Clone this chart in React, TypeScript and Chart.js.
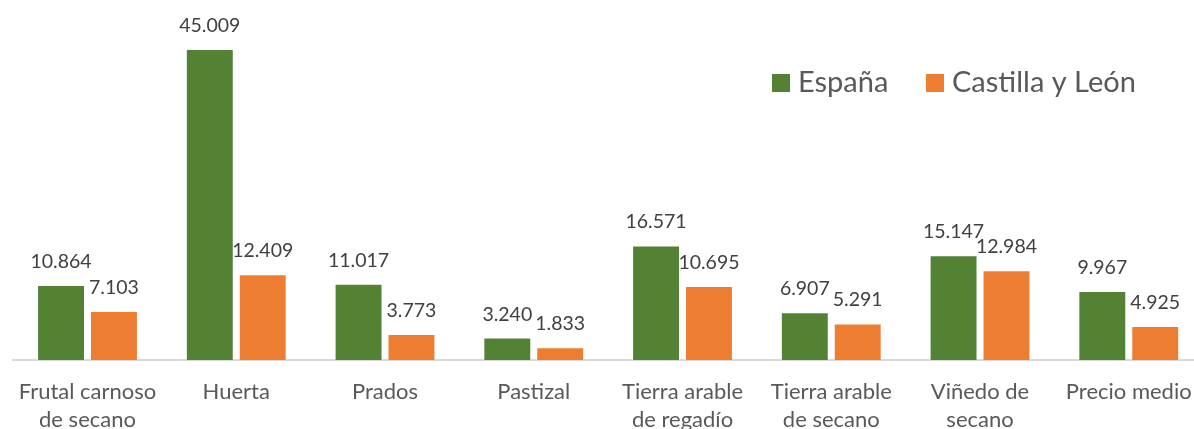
import React, { useEffect, useRef } from "react";
import { Chart, registerables } from "chart.js";

Chart.register(...registerables);

const categories: string[][] = [
  ["Frutal carnoso", "de secano"],
  ["Huerta"],
  ["Prados"],
  ["Pastizal"],
  ["Tierra arable", "de regadío"],
  ["Tierra arable", "de secano"],
  ["Viñedo de", "secano"],
  ["Precio medio"],
];
const seriesNames = ["España", "Castilla y León"];
const espana = [10864, 45009, 11017, 3240, 16571, 6907, 15147, 9967];
const castilla = [7103, 12409, 3773, 1833, 10695, 5291, 12984, 4925];
const colors = ["#548235", "#ED7D31"];

const fmt = (v: number) => {
  const s = Math.round(v).toString();
  return s.replace(/\B(?=(\d{3})+(?!\d))/g, ".");
};

const FONT = "Lato, 'Open Sans', sans-serif";

const labelPlugin = {
  id: "valueLabels",
  afterDatasetsDraw(chart: any) {
    const ctx = chart.ctx;
    ctx.save();
    ctx.font = `19.5px ${FONT}`;
    ctx.fillStyle = "#404040";
    ctx.textAlign = "center";
    ctx.textBaseline = "alphabetic";
    chart.data.datasets.forEach((ds: any, di: number) => {
      const meta = chart.getDatasetMeta(di);
      meta.data.forEach((el: any, i: number) => {
        ctx.fillText(fmt(ds.data[i]), el.x, el.y - 17);
      });
    });
    ctx.restore();
  },
};

const legendPlugin = {
  id: "customLegend",
  afterDraw(chart: any) {
    const ctx = chart.ctx;
    ctx.save();
    ctx.font = `29px ${FONT}`;
    ctx.textBaseline = "alphabetic";
    const xs = [772, 926];
    chart.data.datasets.forEach((ds: any, di: number) => {
      ctx.fillStyle = ds.backgroundColor;
      ctx.fillRect(xs[di], 74, 18, 18);
      ctx.fillStyle = "#595959";
      ctx.fillText(ds.label, xs[di] + 26, 92);
    });
    ctx.restore();
  },
};

export default function App() {
  const ref = useRef<HTMLCanvasElement | null>(null);
  useEffect(() => {
    document.body.style.margin = "0";
    const canvas = ref.current!;
    const chart = new Chart(canvas, {
      type: "bar",
      data: {
        labels: categories,
        datasets: [
          {
            label: seriesNames[0],
            data: espana,
            backgroundColor: colors[0],
            borderColor: "rgba(255,255,255,0.5)",
            borderWidth: 1,
          },
          {
            label: seriesNames[1],
            data: castilla,
            backgroundColor: colors[1],
            borderColor: "rgba(255,255,255,0.5)",
            borderWidth: 1,
          },
        ],
      },
      options: {
        responsive: false,
        animation: false,
        devicePixelRatio: 1,
        layout: { padding: { left: 12, right: 6, top: 14.5, bottom: 5 } },
        datasets: {
          bar: { barPercentage: 0.9057, categoryPercentage: 0.7114 },
        },
        plugins: {
          legend: { display: false },
          tooltip: { enabled: false },
        },
        scales: {
          x: {
            grid: { display: false, drawTicks: false },
            border: { display: true, color: "#D9D9D9", width: 2 },
            ticks: {
              color: "#595959",
              font: { family: FONT, size: 22, lineHeight: 1.273 },
              padding: 18,
              maxRotation: 0,
              autoSkip: false,
            },
          },
          y: {
            display: false,
            min: 0,
            max: 50000,
          },
        },
      },
      plugins: [labelPlugin, legendPlugin],
    });
    return () => chart.destroy();
  }, []);
  return (
    <div
      style={{
        position: "fixed",
        left: 0,
        top: 0,
        width: 1194,
        height: 429,
        overflow: "hidden",
        background: "#fff",
      }}
    >
      <canvas ref={ref} width={1210} height={457} style={{ display: "block" }} />
    </div>
  );
}
